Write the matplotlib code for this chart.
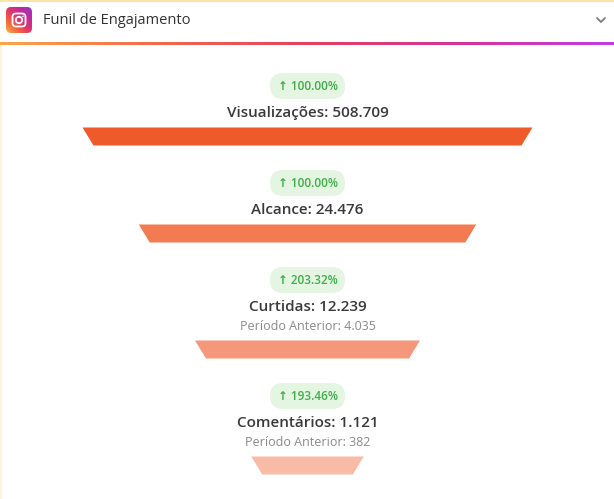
import matplotlib.pyplot as plt
import numpy as np
from matplotlib.patches import Polygon, FancyBboxPatch, Circle
from matplotlib.colors import LinearSegmentedColormap

plt.rcParams['font.family'] = ['Open Sans', 'DejaVu Sans']

# funnel data
stages = ['Visualizações', 'Alcance', 'Curtidas', 'Comentários']
values = ['508.709', '24.476', '12.239', '1.121']
growth = ['100.00%', '100.00%', '203.32%', '193.46%']
previous = [None, None, '4.035', '382']
colors = ['#EE5A2A', '#F27B51', '#F5977A', '#F8BBA5']

W, H = 614, 499
fig = plt.figure(figsize=(W / 100, H / 100), dpi=100)
ax = fig.add_axes([0, 0, 1, 1])
ax.set_xlim(0, W)
ax.set_ylim(H, 0)
ax.axis('off')

# card background + borders
ax.add_patch(plt.Rectangle((0, 0), W, H, facecolor='white', edgecolor='none'))
ax.plot([0, W], [0.8, 0.8], color='#FCE3A6', lw=1.5)
ax.plot([0.8, 0.8], [45, H], color='#FDF1DF', lw=1.5)

# header
ax.text(43, 20, 'Funil de Engajamento', fontsize=10.5, color='#333333',
        va='center', ha='left', fontweight='medium')
ax.plot([597, 601, 605], [18, 22, 18], color='#7a7a7a', lw=1.3,
        solid_capstyle='round', solid_joinstyle='round')

# gradient rule under header
grad = LinearSegmentedColormap.from_list(
    'ig', ['#F9A54A', '#F26A4A', '#E6405F', '#D2349A', '#C23CE0'])
ax.imshow(np.linspace(0, 1, 300).reshape(1, -1), cmap=grad, aspect='auto',
          extent=[0, W, 45.2, 43.0], zorder=2)

# instagram icon
icon = FancyBboxPatch((6, 7), 26, 26, boxstyle='round,pad=0,rounding_size=5',
                      facecolor='none', edgecolor='none')
ax.add_patch(icon)
gx, gy = np.meshgrid(np.linspace(0, 1, 60), np.linspace(0, 1, 60))
ig_cmap = LinearSegmentedColormap.from_list(
    'icon', ['#FDB44B', '#F5683A', '#E3336B', '#C02A9E', '#8A3AC8'])
im = ax.imshow((gx + gy) / 2, cmap=ig_cmap, extent=[6, 32, 33, 7],
               origin='lower', zorder=3)
im.set_clip_path(icon)
ax.add_patch(FancyBboxPatch((12.5, 13.5), 13, 13,
                            boxstyle='round,pad=0,rounding_size=3.5',
                            facecolor='none', edgecolor='white', lw=1.3, zorder=4))
ax.add_patch(Circle((19, 20), 3.2, facecolor='none', edgecolor='white',
                    lw=1.3, zorder=4))
ax.add_patch(Circle((23, 16.3), 0.8, facecolor='white', edgecolor='none', zorder=4))

# funnel layout
cx = 307.5
step_w = 112.5
inset = 11
bar_h = 18
y = 73
for i, name in enumerate(stages):
    # badge
    ax.add_patch(FancyBboxPatch((cx - 37.5, y), 75, 26,
                                boxstyle='round,pad=0,rounding_size=13',
                                facecolor='#E4F5E2', edgecolor='none'))
    ax.text(cx, y + 13.5, '↑ ' + growth[i], fontsize=8.5, color='#3FAE49',
            ha='center', va='center', fontweight='semibold')
    ty = y + 40
    ax.text(cx, ty, f'{name}: {values[i]}', fontsize=11, color='#3a3a3a',
            ha='center', va='center', fontweight='semibold')
    if previous[i] is not None:
        ax.text(cx, ty + 20, f'Período Anterior: {previous[i]}', fontsize=9,
                color='#8a8a8a', ha='center', va='center')
        ty += 19
    ty += 14.5
    # trapezoid
    w = step_w * (len(stages) - i) / 2
    ax.add_patch(Polygon([(cx - w, ty), (cx + w, ty),
                          (cx + w - inset, ty + bar_h), (cx - w + inset, ty + bar_h)],
                         closed=True, facecolor=colors[i], edgecolor='none'))
    y = ty + bar_h + 24.5

fig.savefig('out.png', dpi=100)
